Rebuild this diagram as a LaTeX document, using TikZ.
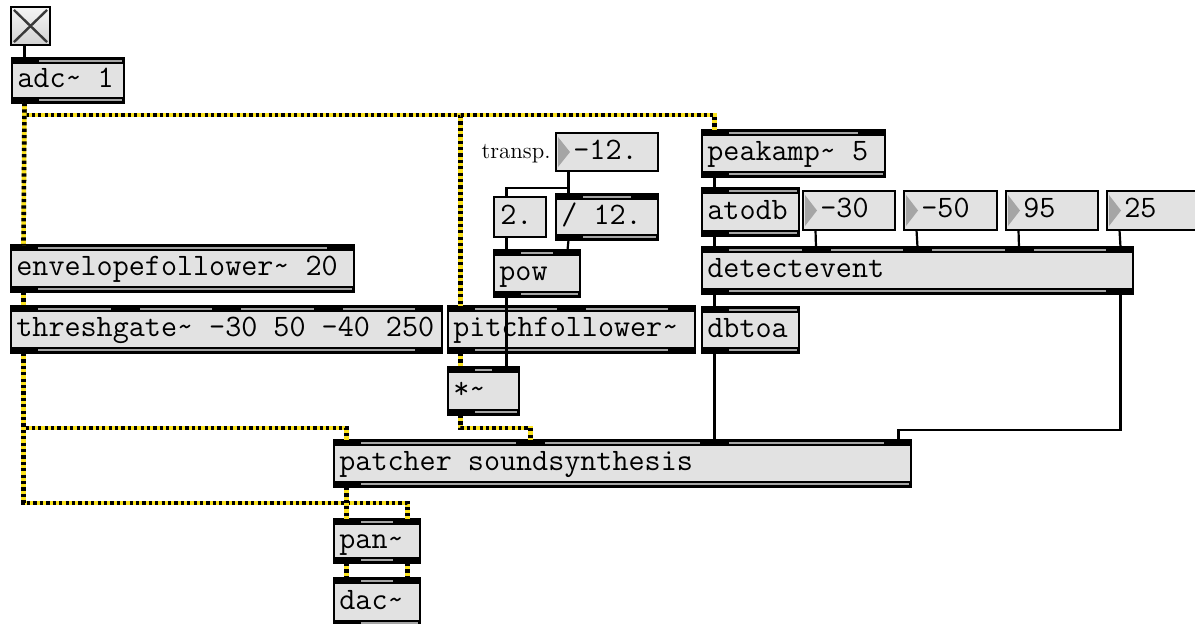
\documentclass[tikz,border=0pt]{standalone}
\usepackage{tikz}
\usetikzlibrary{calc}

\definecolor{boxfill}{RGB}{226,226,226}
\definecolor{barfill}{RGB}{165,165,165}
\definecolor{sigyellow}{RGB}{250,226,30}

\newcommand{\maxtilde}{\textasciitilde}

% black strip with inlets (i) or outlets (o): name, i/o, x1, x2, outer y, inner y, count
\newcommand{\maxband}[7]{%
  \fill (#3,#5) rectangle (#4,#6);
  \pgfmathsetmacro{\barlo}{(#5+#6)/2-1}
  \pgfmathsetmacro{\barhi}{(#5+#6)/2+1}
  \ifnum#7>1
    \pgfmathsetmacro{\portgap}{(#4-#3-25)/(#7-1)}
    \pgfmathtruncatemacro{\lastk}{#7-1}
    \foreach \k in {1,...,\lastk}{
      \fill[barfill] ({#3+(\k-1)*\portgap+27},\barlo) rectangle ({#3+\k*\portgap-2},\barhi);}
  \else
    \def\portgap{0}
    \fill[barfill] ({#3+27},\barlo) rectangle ({#4-2},\barhi);
  \fi
  \foreach \k in {1,...,#7}{
    \coordinate (#1-#2\k) at ({#3+12.5+(\k-1)*\portgap},#5);}
}

% object box: name, x1, y1, x2, y2, inlets, outlets, text
\newcommand{\maxobj}[8]{%
  \fill[boxfill] (#2,#3) rectangle (#4,#5);
  \maxband{#1}{i}{#2}{#4}{#3}{#3+6}{#6}
  \maxband{#1}{o}{#2}{#4}{#5}{#5-6}{#7}
  \draw[boxline] (#2,#3) rectangle (#4,#5);
  \node[objtext, anchor=base west] (#1) at ({#2+5},{(#3+#5)/2+7}) {#8};
}

% number box: name, x1, y1, x2, y2, value
\newcommand{\maxnum}[6]{%
  \draw[boxline, fill=boxfill] (#2,#3) rectangle (#4,#5);
  \fill[barfill] ({#2+2},{#3+4}) -- ({#2+14},{(#3+#5)/2}) -- ({#2+2},{#5-4}) -- cycle;
  \node[objtext, anchor=base west] (#1) at ({#2+17},{(#3+#5)/2+7}) {#6};
  \coordinate (#1-i1) at ({#2+12.5},#3);
  \coordinate (#1-o1) at ({#2+12.5},#5);
}

% message box: name, x1, y1, x2, y2, text
\newcommand{\maxmsg}[6]{%
  \draw[boxline, fill=boxfill] (#2,#3) rectangle (#4,#5);
  \node[objtext, anchor=base west] (#1) at ({#2+6},{(#3+#5)/2+7}) {#6};
  \coordinate (#1-i1) at ({#2+12.5},#3);
  \coordinate (#1-o1) at ({#2+12.5},#5);
}

\begin{document}
\begin{tikzpicture}[x=0.5pt, y=-0.5pt,
  boxline/.style={draw=black, line width=1.1pt},
  objtext/.style={inner sep=0pt, font=\fontsize{15.6}{16}\selectfont\ttfamily},
  commtext/.style={inner sep=0pt, font=\fontsize{11.5}{12}\selectfont},
  cord/.style={line width=1.1pt},
  sig/.style={line width=2.3pt, draw=sigyellow,
    postaction={draw=black, dash pattern=on 1.6pt off 1.6pt}}]
  \useasboundingbox (0,0) rectangle (1195,623);
  \clip (0,0) rectangle (1195,623);

  % input
  \node[draw, line width=1.1pt, top color=gray!8, bottom color=gray!35,
    minimum width=19.5pt, minimum height=19pt, inner sep=0pt] (tog) at (30.5,26) {};
  \draw[gray!45!black, line width=1.2pt]
    ($(tog.north west)+(4,4)$) -- ($(tog.south east)+(-4,-4)$)
    ($(tog.north east)+(-4,4)$) -- ($(tog.south west)+(4,-4)$);
  \coordinate (tog-o1) at (24.5,45);
  \maxobj{adc}{12}{58}{124}{103}{1}{1}{adc\maxtilde{} 1}

  % amplitude
  \maxobj{env}{11}{245}{354}{292}{2}{1}{envelopefollower\maxtilde{} 20}
  \maxobj{thresh}{11}{306}{442}{353}{5}{2}{threshgate\maxtilde{} -30 50 -40 250}

  % pitch
  \node[commtext, anchor=base east] (transp) at (551,158) {transp.};
  \maxnum{tr}{556}{133}{658}{171}{-12.}
  \maxmsg{two}{494}{197}{546}{237}{2.}
  \maxobj{tdiv}{556}{194}{658}{240}{2}{1}{/ 12.}
  \maxobj{pow}{494}{250}{580}{297}{2}{1}{pow}
  \maxobj{pitch}{448}{306}{695}{353}{3}{2}{pitchfollower\maxtilde}
  \maxobj{mul}{448}{367}{519}{415}{2}{1}{*\maxtilde}

  % events
  \maxobj{peak}{702}{130}{885}{177}{2}{1}{peakamp\maxtilde{} 5}
  \maxobj{atodb}{702}{188}{799}{236}{1}{1}{atodb}
  \maxnum{nA}{803}{191}{895}{230}{-30}
  \maxnum{nB}{904}{191}{997}{230}{-50}
  \maxnum{nC}{1006}{191}{1098}{230}{95}
  \maxnum{nD}{1107}{191}{1200}{230}{25}
  \maxobj{detect}{702}{247}{1133}{294}{5}{2}{detectevent}
  \maxobj{dbtoa}{702}{307}{799}{353}{1}{1}{dbtoa}

  % output
  \maxobj{patch}{334}{440}{911}{487}{4}{1}{patcher soundsynthesis}
  \maxobj{pan}{334}{519}{420}{563}{2}{2}{pan\maxtilde}
  \maxobj{dac}{334}{578}{420}{626}{2}{1}{dac\maxtilde}

  % control cords
  \draw[cord] (tog-o1) -- (adc-i1);
  \draw[cord] (tr-o1) -- (tdiv-i1);
  \draw[cord] (tr-o1) -- ++(0,17) -| (two-i1);
  \draw[cord] (two-o1) -- (pow-i1);
  \draw[cord] (tdiv-o1) -- (pow-i2);
  \draw[cord] (pow-o1) -- (mul-i2);
  \draw[cord] (peak-o1) -- (atodb-i1);
  \draw[cord] (atodb-o1) -- (detect-i1);
  \draw[cord] (nA-o1) -- (detect-i2);
  \draw[cord] (nB-o1) -- (detect-i3);
  \draw[cord] (nC-o1) -- (detect-i4);
  \draw[cord] (nD-o1) -- (detect-i5);
  \draw[cord] (detect-o1) -- (dbtoa-i1);
  \draw[cord] (dbtoa-o1) -- (patch-i3);
  \draw[cord] (detect-o2) -- ++(0,136) -| (patch-i4);

  % signal cords
  \draw[sig] (adc-o1) -- ++(0,12) -| (peak-i1);
  \draw[sig] (adc-o1) -- ++(0,12) -| (pitch-i1);
  \draw[sig] (adc-o1) -- (env-i1);
  \draw[sig] (env-o1) -- (thresh-i1);
  \draw[sig] (thresh-o1) -- ++(0,75) -| (patch-i1);
  \draw[sig] (thresh-o1) -- ++(0,150) -| (pan-i2);
  \draw[sig] (pitch-o1) -- (mul-i1);
  \draw[sig] (mul-o1) -- ++(0,13) -| (patch-i2);
  \draw[sig] (patch-o1) -- (pan-i1);
  \draw[sig] (pan-o1) -- (dac-i1);
  \draw[sig] (pan-o2) -- (dac-i2);
\end{tikzpicture}
\end{document}
